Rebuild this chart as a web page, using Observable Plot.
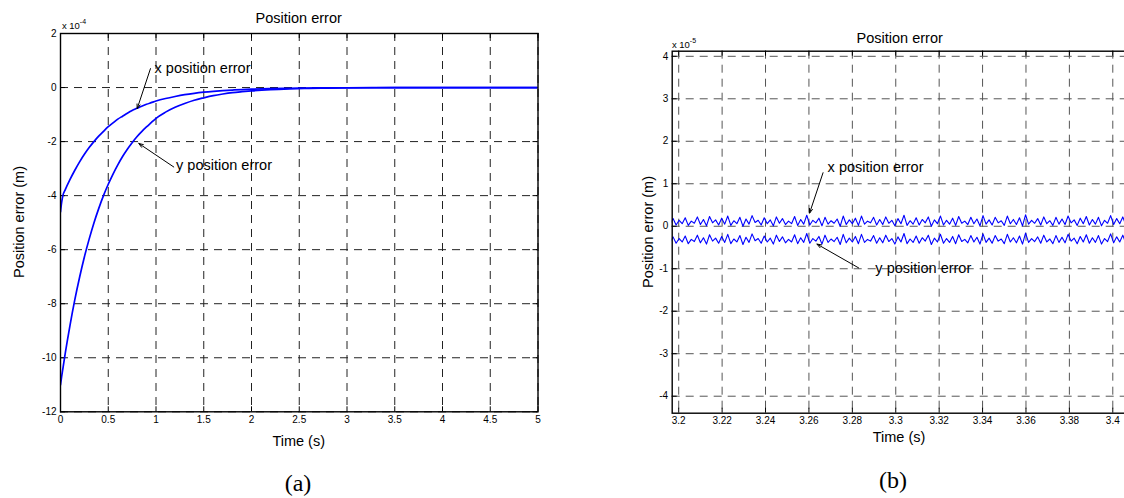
<!DOCTYPE html>
<html><head><meta charset="utf-8">
<script src="https://cdn.jsdelivr.net/npm/d3@7"></script>
<script src="https://cdn.jsdelivr.net/npm/@observablehq/plot@0.6"></script>
<style>
html,body{margin:0;padding:0;background:#fff;}
#wrap{position:relative;width:1124px;height:498px;overflow:hidden;font-family:"Liberation Sans",Arial,sans-serif;color:#000;}
.pnl{position:absolute;top:0;}
.lbl{position:absolute;white-space:nowrap;transform:translate(-50%,-50%);line-height:1;}
</style></head><body><div id="wrap"></div>
<script>
// ---------- Panel (a): 0–5 s, values ×1e-4 m ----------
const timeA = [0,0.012,0.025,0.05,0.1,0.15,0.2,0.25,0.3,0.35,0.4,0.45,0.5,0.55,0.6,0.65,0.7,0.75,0.8,0.85,0.9,0.95,1.0,1.1,1.2,1.3,1.4,1.5,1.6,1.7,1.8,1.9,2.0,2.2,2.4,2.6,2.8,3.0,3.5,4.0,4.5,5.0];
const xErrA = [-4.6,-4.25,-4.0,-3.78,-3.40,-3.06,-2.75,-2.47,-2.22,-2.0,-1.80,-1.62,-1.45,-1.31,-1.17,-1.06,-0.95,-0.85,-0.77,-0.69,-0.62,-0.56,-0.50,-0.405,-0.33,-0.265,-0.214,-0.173,-0.14,-0.113,-0.092,-0.074,-0.06,-0.039,-0.026,-0.017,-0.011,-0.007,-0.002,0,0,0];
const yErrA = [-11.0,-10.7,-10.4,-9.83,-8.79,-7.85,-7.02,-6.27,-5.61,-5.01,-4.48,-4.0,-3.58,-3.2,-2.86,-2.55,-2.28,-2.04,-1.82,-1.63,-1.46,-1.3,-1.14,-0.91,-0.73,-0.59,-0.47,-0.38,-0.30,-0.24,-0.19,-0.154,-0.123,-0.078,-0.05,-0.032,-0.02,-0.013,-0.004,-0.001,0,0];
const ticksAx = [0,0.5,1,1.5,2,2.5,3,3.5,4,4.5,5];
const ticksAy = [2,0,-2,-4,-6,-8,-10,-12];
const annArrowsA = [
  {x1:0.942, y1:0.70, x2:0.803, y2:-0.78},
  {x1:1.186, y1:-2.94, x2:0.82, y2:-2.07}
];
const annTextA = [
  {x:0.985, y:0.70, text:"x position error"},
  {x:1.21, y:-2.88, text:"y position error"}
];

// ---------- Panel (b): 3.197–3.41 s, values ×1e-5 m ----------
const tStartB = 3.196, tStepB = 0.0014;
const xErrB = [0.05,0.18,0.03,0.14,0.06,0.20,0.02,0.12,0.07,0.22,
0.04,0.16,0.01,0.23,0.08,0.15,0.03,0.19,0.05,0.24,
0.02,0.13,0.06,0.21,0.00,0.17,0.05,0.25,0.09,0.14,
0.03,0.20,0.06,0.15,0.01,0.22,0.07,0.18,0.04,0.12,
0.06,0.23,0.02,0.16,0.05,0.26,0.03,0.14,0.08,0.19,
0.01,0.21,0.05,0.13,0.07,0.17,0.00,0.24,0.04,0.15,
0.06,0.19,0.02,0.24,0.05,0.12,0.08,0.21,0.03,0.16,
0.04,0.22,0.07,0.14,0.01,0.18,0.06,0.26,0.02,0.13,
0.05,0.20,0.03,0.16,0.08,0.22,0.00,0.15,0.06,0.24,
0.03,0.14,0.05,0.19,0.02,0.23,0.07,0.12,0.04,0.21,
0.06,0.17,0.01,0.25,0.05,0.15,0.03,0.21,0.08,0.13,
0.02,0.24,0.06,0.16,0.04,0.20,0.01,0.27,0.05,0.14,
0.07,0.18,0.03,0.22,0.06,0.13,0.02,0.21,0.05,0.17,
0.04,0.24,0.08,0.15,0.02,0.19,0.06,0.23,0.03,0.16,
0.05,0.21,0.01,0.14,0.07,0.25,0.04,0.18,0.06,0.22,
0.03,0.15,0.05,0.20];
const yErrB = [-0.38,-0.25,-0.40,-0.29,-0.37,-0.23,-0.41,-0.31,-0.36,-0.21,
-0.39,-0.27,-0.42,-0.20,-0.35,-0.28,-0.40,-0.24,-0.38,-0.19,
-0.41,-0.30,-0.37,-0.22,-0.43,-0.26,-0.38,-0.18,-0.34,-0.29,
-0.40,-0.23,-0.37,-0.28,-0.42,-0.21,-0.36,-0.25,-0.39,-0.31,
-0.37,-0.20,-0.41,-0.27,-0.38,-0.17,-0.40,-0.29,-0.35,-0.24,
-0.42,-0.21,-0.38,-0.30,-0.36,-0.26,-0.43,-0.19,-0.39,-0.28,
-0.37,-0.24,-0.41,-0.19,-0.38,-0.31,-0.35,-0.22,-0.40,-0.27,
-0.39,-0.21,-0.36,-0.29,-0.42,-0.25,-0.37,-0.17,-0.41,-0.30,
-0.38,-0.23,-0.40,-0.27,-0.35,-0.21,-0.43,-0.28,-0.37,-0.19,
-0.40,-0.29,-0.38,-0.24,-0.41,-0.20,-0.36,-0.31,-0.39,-0.22,
-0.37,-0.26,-0.42,-0.18,-0.38,-0.28,-0.40,-0.22,-0.35,-0.30,
-0.41,-0.19,-0.37,-0.27,-0.39,-0.23,-0.42,-0.16,-0.38,-0.29,
-0.36,-0.25,-0.40,-0.21,-0.37,-0.30,-0.41,-0.22,-0.38,-0.26,
-0.39,-0.19,-0.35,-0.28,-0.41,-0.24,-0.37,-0.20,-0.40,-0.27,
-0.38,-0.22,-0.42,-0.29,-0.36,-0.18,-0.39,-0.25,-0.37,-0.21,
-0.40,-0.28,-0.38,-0.23];
const ticksBx = [3.2,3.22,3.24,3.26,3.28,3.3,3.32,3.34,3.36,3.38,3.4];
const ticksBy = [4,3,2,1,0,-1,-2,-3,-4];
const annArrowsB = [
  {x1:3.2665, y1:1.26, x2:3.2603, y2:0.31},
  {x1:3.2829, y1:-0.98, x2:3.2637, y2:-0.42}
];
const annTextB = [
  {x:3.2686, y:1.38, text:"x position error"},
  {x:3.2906, y:-0.98, text:"y position error"}
];

// ---------- build ----------
const wrap = document.getElementById("wrap");
const fmt = d => String(d);

function panel({width, height, mt, mr, mb, ml, xd, yd, tx, ty, series, arrows, texts, gridColor}) {
  const H = height - mt - mb, W = width - ml - mr;
  return Plot.plot({
    width, height, marginTop: mt, marginRight: mr, marginBottom: mb, marginLeft: ml,
    style: {fontFamily: "Liberation Sans, Arial, sans-serif", fontSize: "10px", background: "transparent", overflow: "visible"},
    x: {domain: xd, label: null},
    y: {domain: yd, label: null},
    marks: [
      Plot.ruleX(tx, {stroke: gridColor, strokeWidth: 1, strokeDasharray: "8,6"}),
      Plot.ruleY(ty, {stroke: gridColor, strokeWidth: 1, strokeDasharray: "8,6"}),
      Plot.ruleX(tx, {stroke: "#000", insetTop: H - 5}),
      Plot.ruleX(tx, {stroke: "#000", insetBottom: H - 5}),
      Plot.ruleY(ty, {stroke: "#000", insetRight: W - 5}),
      Plot.ruleY(ty, {stroke: "#000", insetLeft: W - 5}),
      ...series.map(s => Plot.line(s.data, {x: "t", y: "v", stroke: "#0000ff", strokeWidth: s.w, curve: s.curve, clip: true})),
      Plot.arrow(arrows, {x1: "x1", y1: "y1", x2: "x2", y2: "y2", stroke: "#000", strokeWidth: 1, headLength: 7, headAngle: 40}),
      Plot.text(texts, {x: "x", y: "y", text: "text", textAnchor: "start", lineAnchor: "middle", fontSize: 14.5, fill: "#000"}),
      Plot.frame({stroke: "#000", strokeWidth: 1.4}),
      Plot.axisX(tx, {tickSize: 0, tickPadding: 4, tickFormat: fmt, fontSize: 10, label: null}),
      Plot.axisY(ty, {tickSize: 0, tickPadding: 4, tickFormat: fmt, fontSize: 10, label: null})
    ]
  });
}

const dataAx = timeA.map((t, i) => ({t, v: xErrA[i]}));
const dataAy = timeA.map((t, i) => ({t, v: yErrA[i]}));
const pa = panel({
  width: 560, height: 450, mt: 33, mr: 22.5, mb: 38.7, ml: 60,
  xd: [0, 5], yd: [-12, 2], tx: ticksAx, ty: ticksAy,
  series: [{data: dataAx, w: 1.7, curve: "monotone-x"}, {data: dataAy, w: 1.7, curve: "monotone-x"}],
  arrows: annArrowsA, texts: annTextA, gridColor: "#222"
});
pa.classList.add("pnl"); pa.style.left = "0px";
wrap.appendChild(pa);

const dataBx = xErrB.map((v, i) => ({t: tStartB + i * tStepB, v}));
const dataBy = yErrB.map((v, i) => ({t: tStartB + i * tStepB, v}));
const pb = panel({
  width: 520, height: 450, mt: 50.7, mr: 6, mb: 37.3, ml: 51.7,
  xd: [3.197, 3.41], yd: [-4.4, 4.12], tx: ticksBx, ty: ticksBy,
  series: [{data: dataBx, w: 1.1, curve: "linear"}, {data: dataBy, w: 1.1, curve: "linear"}],
  arrows: annArrowsB, texts: annTextB, gridColor: "#555"
});
pb.classList.add("pnl"); pb.style.left = "620px";
wrap.appendChild(pb);

function label(html, x, y, size, extra = "") {
  const d = document.createElement("div");
  d.className = "lbl";
  d.style.left = x + "px"; d.style.top = y + "px"; d.style.fontSize = size + "px";
  if (extra) d.style.cssText += extra;
  d.innerHTML = html;
  wrap.appendChild(d);
}
// panel (a) texts
label("Position error", 298.7, 17.5, 14.5);
label("x 10<sup style='font-size:7px;vertical-align:5px'>-4</sup>", 74, 24, 9.5);
label("Position error (m)", 18.5, 222, 14.5, "transform:translate(-50%,-50%) rotate(-90deg);");
label("Time (s)", 298.7, 441, 14.5);
label("(a)", 298, 483, 24, "font-family:'Liberation Serif','DejaVu Serif',serif;");
// panel (b) texts
label("Position error", 899.7, 38.3, 14.5);
label("x 10<sup style='font-size:7px;vertical-align:5px'>-5</sup>", 684, 43, 9.5);
label("Position error (m)", 648.3, 231.7, 14.5, "transform:translate(-50%,-50%) rotate(-90deg);");
label("Time (s)", 899, 437, 14.5);
label("(b)", 893, 480, 24, "font-family:'Liberation Serif','DejaVu Serif',serif;");
</script>
</body></html>
